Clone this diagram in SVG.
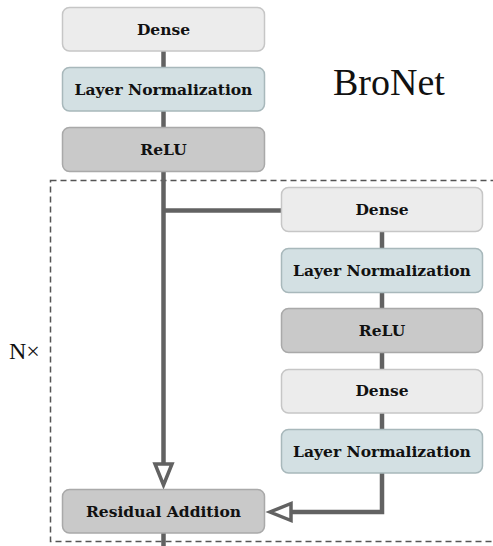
<svg xmlns="http://www.w3.org/2000/svg" width="493" height="546" viewBox="0 0 493 546">
<style>
.box{stroke-width:1.5}
.dense{fill:#ececec;stroke:#c6c6c6}
.ln{fill:#d3e0e3;stroke:#a8b8bb}
.relu{fill:#c9c9c9;stroke:#a9a9a9}
.lbl{font-family:"DejaVu Serif",serif;font-weight:bold;font-size:15.5px;fill:#111;text-anchor:middle}
.conn{stroke:#626262;stroke-width:4.5;fill:none}
.head{fill:#fff;stroke:#626262;stroke-width:3.5;stroke-linejoin:miter}
</style>
<rect x="0" y="0" width="493" height="546" fill="#fff"/>
<rect x="50.5" y="180.5" width="450" height="361" fill="none" stroke="#555" stroke-width="1.5" stroke-dasharray="6,4"/>
<text x="333" y="95" font-family="Liberation Serif,serif" font-size="38" fill="#111">BroNet</text>
<text x="9" y="359" font-family="Liberation Serif,serif" font-size="24" fill="#111">N×</text>
<g id="connectors">
<line class="conn" x1="163.5" y1="51" x2="163.5" y2="67"/>
<line class="conn" x1="163.5" y1="111" x2="163.5" y2="127"/>
<line class="conn" x1="163.5" y1="172" x2="163.5" y2="465"/>
<line class="conn" x1="163.5" y1="210.5" x2="281" y2="210.5"/>
<line class="conn" x1="382" y1="232" x2="382" y2="248"/>
<line class="conn" x1="382" y1="293" x2="382" y2="308"/>
<line class="conn" x1="382" y1="353" x2="382" y2="369"/>
<line class="conn" x1="382" y1="413" x2="382" y2="429"/>
<polyline class="conn" points="382,473 382,512 291,512"/>
<line class="conn" x1="163.5" y1="533" x2="163.5" y2="546"/>
<polygon class="head" points="155,464 172,464 163.5,485"/>
<polygon class="head" points="291,503.5 291,520.5 270,512"/>
</g>
<g id="dense1"><rect class="box dense" x="62.5" y="7.5" width="202" height="43.5" rx="7"/><text class="lbl" x="163.5" y="35">Dense</text></g>
<g id="ln1"><rect class="box ln" x="62.5" y="67.5" width="202" height="43.5" rx="7"/><text class="lbl" x="163.5" y="95">Layer Normalization</text></g>
<g id="relu1"><rect class="box relu" x="62.5" y="127.5" width="202" height="44" rx="7"/><text class="lbl" x="163.5" y="155">ReLU</text></g>
<g id="dense2"><rect class="box dense" x="281.5" y="187.5" width="201" height="44" rx="7"/><text class="lbl" x="382" y="215">Dense</text></g>
<g id="ln2"><rect class="box ln" x="281.5" y="248.5" width="201" height="44" rx="7"/><text class="lbl" x="382" y="276">Layer Normalization</text></g>
<g id="relu2"><rect class="box relu" x="281.5" y="308.5" width="201" height="44" rx="7"/><text class="lbl" x="382" y="336">ReLU</text></g>
<g id="dense3"><rect class="box dense" x="281.5" y="369.5" width="201" height="43.5" rx="7"/><text class="lbl" x="382" y="396">Dense</text></g>
<g id="ln3"><rect class="box ln" x="281.5" y="429.5" width="201" height="43.5" rx="7"/><text class="lbl" x="382" y="457">Layer Normalization</text></g>
<g id="residual"><rect class="box relu" x="62.5" y="489.5" width="202" height="43.5" rx="7"/><text class="lbl" x="163.5" y="517">Residual Addition</text></g>
</svg>
